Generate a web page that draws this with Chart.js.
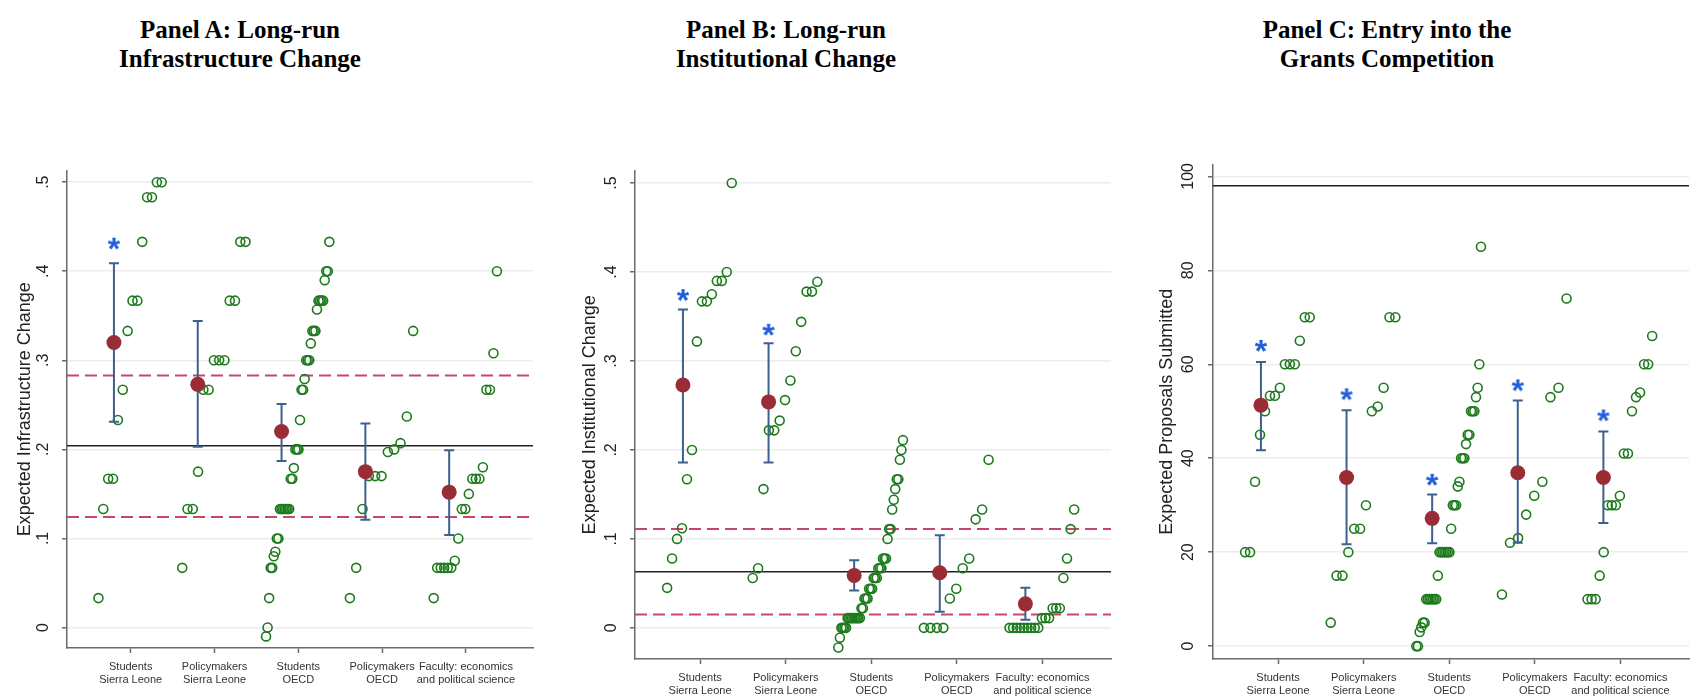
<!DOCTYPE html>
<html>
<head>
<meta charset="utf-8">
<script src="https://cdn.jsdelivr.net/npm/chart.js@4.4.1/dist/chart.umd.min.js"></script>
<style>
html, body { margin: 0; padding: 0; background: #fff; width: 1694px; height: 697px; overflow: hidden; position: relative; }
.ttl { position: absolute; width: 420px; text-align: center; font: bold 25px "Liberation Serif", "Times New Roman", serif; line-height: 29px; color: #000; }
canvas { position: absolute; }
</style>
</head>
<body>
<div class="ttl" id="tA"></div>
<div class="ttl" id="tB"></div>
<div class="ttl" id="tC"></div>
<canvas id="cA"></canvas>
<canvas id="cB"></canvas>
<canvas id="cC"></canvas>
<script>
'use strict';

/* ---------- DATA ---------- */
const catLabels = [
  ['Students', 'Sierra Leone'],
  ['Policymakers', 'Sierra Leone'],
  ['Students', 'OECD'],
  ['Policymakers', 'OECD'],
  ['Faculty: economics', 'and political science']
];
const catX = [1, 2, 3, 4, 5];

/* Panel A */
const titleA = ['Panel A: Long-run', 'Infrastructure Change'];
const yLabelA = 'Expected Infrastructure Change';
const yTicksA = [0, 0.1, 0.2, 0.3, 0.4, 0.5];
const yTickTextA = ['0', '.1', '.2', '.3', '.4', '.5'];
const answersA1 = [0.033, 0.133, 0.167, 0.167, 0.233, 0.267, 0.333, 0.367, 0.367, 0.433, 0.483, 0.483, 0.5, 0.5];
const answersA2 = [0.067, 0.133, 0.133, 0.175, 0.267, 0.267, 0.3, 0.3, 0.3, 0.367, 0.367, 0.433, 0.433];
const answersA3 = [-0.01, 0, 0.033, 0.067, 0.067, 0.08, 0.085, 0.1, 0.1, 0.133, 0.133, 0.133, 0.133, 0.133, 0.133, 0.133,
  0.167, 0.167, 0.179, 0.2, 0.2, 0.2, 0.233, 0.267, 0.267, 0.279, 0.3, 0.3, 0.3, 0.319, 0.333, 0.333, 0.333, 0.357,
  0.367, 0.367, 0.367, 0.367, 0.39, 0.4, 0.4, 0.433];
const answersA4 = [0.033, 0.067, 0.133, 0.17, 0.17, 0.17, 0.197, 0.2, 0.207, 0.237, 0.333];
const answersA5 = [0.033, 0.067, 0.067, 0.067, 0.067, 0.067, 0.075, 0.1, 0.133, 0.133, 0.15, 0.167, 0.167, 0.167, 0.18, 0.267, 0.267, 0.308, 0.4];
const meanA = [0.320, 0.273, 0.220, 0.175, 0.152];
const loA = [0.231, 0.203, 0.187, 0.121, 0.104];
const hiA = [0.409, 0.344, 0.251, 0.229, 0.199];
const starA = [0.431, null, null, null, null];
const solidA = [0.204];
const dashedA = [0.283, 0.124];

/* Panel B */
const titleB = ['Panel B: Long-run', 'Institutional Change'];
const yLabelB = 'Expected Institutional Change';
const yTicksB = [0, 0.1, 0.2, 0.3, 0.4, 0.5];
const yTickTextB = ['0', '.1', '.2', '.3', '.4', '.5'];
const answersB1 = [0.045, 0.078, 0.1, 0.112, 0.167, 0.2, 0.322, 0.367, 0.367, 0.375, 0.39, 0.39, 0.4, 0.5];
const answersB2 = [0.056, 0.067, 0.156, 0.222, 0.222, 0.233, 0.256, 0.278, 0.311, 0.344, 0.378, 0.378, 0.389];
const answersB3 = [-0.022, -0.011, 0, 0, 0, 0, 0.011, 0.011, 0.011, 0.011, 0.011, 0.011, 0.011, 0.011, 0.011,
  0.022, 0.022, 0.033, 0.033, 0.033, 0.044, 0.044, 0.044, 0.056, 0.056, 0.056, 0.067, 0.067, 0.067,
  0.078, 0.078, 0.078, 0.1, 0.111, 0.111, 0.133, 0.144, 0.156, 0.167, 0.167, 0.189, 0.2, 0.211];
const answersB4 = [0, 0, 0, 0, 0.033, 0.044, 0.067, 0.078, 0.122, 0.133, 0.189];
const answersB5 = [0, 0, 0, 0, 0, 0, 0, 0, 0, 0.011, 0.011, 0.011, 0.022, 0.022, 0.022, 0.056, 0.078, 0.111, 0.133];
const meanB = [0.273, 0.254, 0.059, 0.062, 0.027];
const loB = [0.186, 0.186, 0.042, 0.018, 0.009];
const hiB = [0.358, 0.320, 0.076, 0.104, 0.045];
const starB = [0.374, 0.335, null, null, null];
const solidB = [0.063];
const dashedB = [0.111, 0.015];

/* Panel C */
const titleC = ['Panel C: Entry into the', 'Grants Competition'];
const yLabelC = 'Expected Proposals Submitted';
const yTicksC = [0, 20, 40, 60, 80, 100];
const yTickTextC = ['0', '20', '40', '60', '80', '100'];
const answersC1 = [20, 20, 35, 45, 50, 53.3, 53.3, 55, 60, 60, 60, 65, 70, 70];
const answersC2 = [5, 15, 15, 20, 25, 25, 30, 50, 51, 55, 70, 70];
const answersC3 = [0, 0, 3, 4, 5, 5, 10, 10, 10, 10, 10, 10, 10, 15, 20, 20, 20, 20, 20, 20, 20, 25,
  30, 30, 30, 34, 35, 40, 40, 40, 43, 45, 45, 50, 50, 50, 53, 55, 60, 85];
const answersC4 = [11, 22, 23, 28, 32, 35, 53, 55, 74];
const answersC5 = [10, 10, 10, 15, 20, 30, 30, 30, 32, 41, 41, 50, 53, 54, 60, 60, 66];
const meanC = [51.3, 35.9, 27.2, 36.9, 35.9];
const loC = [41.7, 21.7, 21.9, 22.0, 26.2];
const hiC = [60.5, 50.2, 32.3, 52.3, 45.7];
const starC = [63.9, 53.6, 35.4, 55.5, 49.1];
const solidC = [98];
const dashedC = [];

/* ---------- LAYOUT / STYLE ---------- */
const FONT = '"Liberation Sans", Arial, Helvetica, sans-serif';
const X_MIN = 0.24, X_MAX = 5.8;
const SPREAD_LO = -0.385, SPREAD_HI = 0.37;  // horizontal jitter band around each category
const MEAN_DX = -0.2;
const GREEN = '#1d7a1d', MAROON = '#9a2c36', BAR = '#3d618f', STAR = '#1f5ed8';
const AXIS = '#6b6b6b', GRID = '#ececec';

const panels = [
  { id: 'cA', title: 'tA', titles: titleA, titleLeft: 30, left: 0, top: 149, width: 544, height: 544,
    yMin: -0.023, yMax: 0.513, yTicks: yTicksA, yText: yTickTextA, yLabel: yLabelA, tickPad: 12, titlePad: 14,
    groups: [answersA1, answersA2, answersA3, answersA4, answersA5],
    mean: meanA, lo: loA, hi: hiA, star: starA, solid: solidA, dashed: dashedA },
  { id: 'cB', title: 'tB', titles: titleB, titleLeft: 576, left: 568, top: 149, width: 554, height: 555,
    yMin: -0.035, yMax: 0.514, yTicks: yTicksB, yText: yTickTextB, yLabel: yLabelB, tickPad: 12, titlePad: 11,
    groups: [answersB1, answersB2, answersB3, answersB4, answersB5],
    mean: meanB, lo: loB, hi: hiB, star: starB, solid: solidB, dashed: dashedB },
  { id: 'cC', title: 'tC', titles: titleC, titleLeft: 1177, left: 1146, top: 149, width: 554, height: 555,
    yMin: -2.74, yMax: 102.5, yTicks: yTicksC, yText: yTickTextC, yLabel: yLabelC, tickPad: 6, titlePad: 10,
    groups: [answersC1, answersC2, answersC3, answersC4, answersC5],
    mean: meanC, lo: loC, hi: hiC, star: starC, solid: solidC, dashed: dashedC }
];

/* asterisk marker */
function starImage() {
  const c = document.createElement('canvas');
  c.width = 22; c.height = 22;
  const g = c.getContext('2d');
  g.fillStyle = STAR;
  g.font = 'bold 32px ' + FONT;
  g.textAlign = 'center';
  g.textBaseline = 'alphabetic';
  const m = g.measureText('*');
  g.fillText('*', 11, 11 + (m.actualBoundingBoxAscent - m.actualBoundingBoxDescent) / 2);
  return c;
}
const STAR_IMG = starImage();

function spread(groups) {
  const pts = [];
  groups.forEach((vals, g) => {
    const n = vals.length;
    vals.forEach((v, r) => {
      const t = n > 1 ? r / (n - 1) : 0.5;
      pts.push({ x: catX[g] + SPREAD_LO + (SPREAD_HI - SPREAD_LO) * t, y: v });
    });
  });
  return pts;
}

function hline(y, color, width, dash) {
  return {
    showLine: true, data: [{ x: X_MIN, y }, { x: X_MAX, y }],
    borderColor: color, borderWidth: width, borderDash: dash, pointRadius: 0, pointHoverRadius: 0
  };
}

/* ERROR BARS: drawn right after the response circles, under the mean dots */
const errorBars = {
  id: 'errorBars',
  afterDatasetDraw(chart, args, opts) {
    if (args.index !== 2) return;
    const { ctx, scales: { x, y } } = chart;
    ctx.save();
    ctx.strokeStyle = BAR;
    ctx.lineWidth = 2;
    opts.lo.forEach((lo, i) => {
      const px = x.getPixelForValue(catX[i] + MEAN_DX);
      const p1 = y.getPixelForValue(lo), p2 = y.getPixelForValue(opts.hi[i]);
      ctx.beginPath();
      ctx.moveTo(px, p1); ctx.lineTo(px, p2);
      ctx.moveTo(px - 5, p1); ctx.lineTo(px + 5, p1);
      ctx.moveTo(px - 5, p2); ctx.lineTo(px + 5, p2);
      ctx.stroke();
    });
    ctx.restore();
  }
};

function makePanel(p) {
  const t = document.getElementById(p.title);
  t.style.left = p.titleLeft + 'px';
  t.style.top = '15px';
  t.innerHTML = p.titles.join('<br>');

  const el = document.getElementById(p.id);
  el.width = p.width; el.height = p.height;
  el.style.left = p.left + 'px'; el.style.top = p.top + 'px';

  const stars = p.star.map((s, i) => s == null ? null : { x: catX[i] + MEAN_DX, y: s }).filter(Boolean);
  const datasets = [
    { data: stars, pointStyle: STAR_IMG, pointRadius: 10 },
    { data: catX.map((c, i) => ({ x: c + MEAN_DX, y: p.mean[i] })), pointRadius: 7.5,
      backgroundColor: MAROON, borderWidth: 0 },
    { data: spread(p.groups), pointRadius: 4.5, borderWidth: 1.6, borderColor: GREEN,
      backgroundColor: 'rgba(0,0,0,0)' },
    ...p.solid.map(v => hline(v, '#222', 1.6, [])),
    ...p.dashed.map(v => hline(v, '#c9466e', 2, [12, 6]))
  ];

  new Chart(el, {
    type: 'scatter',
    data: { datasets },
    plugins: [errorBars],
    options: {
      responsive: false,
      animation: false,
      events: [],
      layout: { padding: { top: 10, left: 0, right: 0, bottom: 0 } },
      plugins: {
        legend: { display: false },
        tooltip: { enabled: false },
        errorBars: { lo: p.lo, hi: p.hi }
      },
      scales: {
        x: {
          type: 'linear', min: X_MIN, max: X_MAX,
          afterBuildTicks: s => { s.ticks = catX.map(v => ({ value: v })); },
          afterFit: s => { s.height = 45; },
          ticks: {
            callback: (v, i) => catLabels[i],
            font: { family: FONT, size: 11 }, color: '#333', padding: 7,
            maxRotation: 0, minRotation: 0, autoSkip: false
          },
          grid: { drawOnChartArea: false, tickLength: 5, tickColor: AXIS, tickWidth: 1.5 },
          border: { color: AXIS, width: 1.5 }
        },
        y: {
          type: 'linear', min: p.yMin, max: p.yMax,
          afterBuildTicks: s => { s.ticks = p.yTicks.map(v => ({ value: v })); },
          afterFit: s => { s.width = 67; },
          ticks: {
            callback: (v, i) => p.yText[i],
            font: { family: FONT, size: 16 }, color: '#222',
            minRotation: 90, maxRotation: 90, crossAlign: 'center', padding: p.tickPad
          },
          grid: { color: GRID, lineWidth: 1.5, tickLength: 5, tickColor: AXIS, tickWidth: 1.5 },
          border: { color: AXIS, width: 1.5 },
          title: {
            display: true, text: p.yLabel, color: '#222',
            font: { family: FONT, size: 18 }, padding: { top: p.titlePad, bottom: 0 }
          }
        }
      }
    }
  });
}

panels.forEach(makePanel);
</script>
</body>
</html>
